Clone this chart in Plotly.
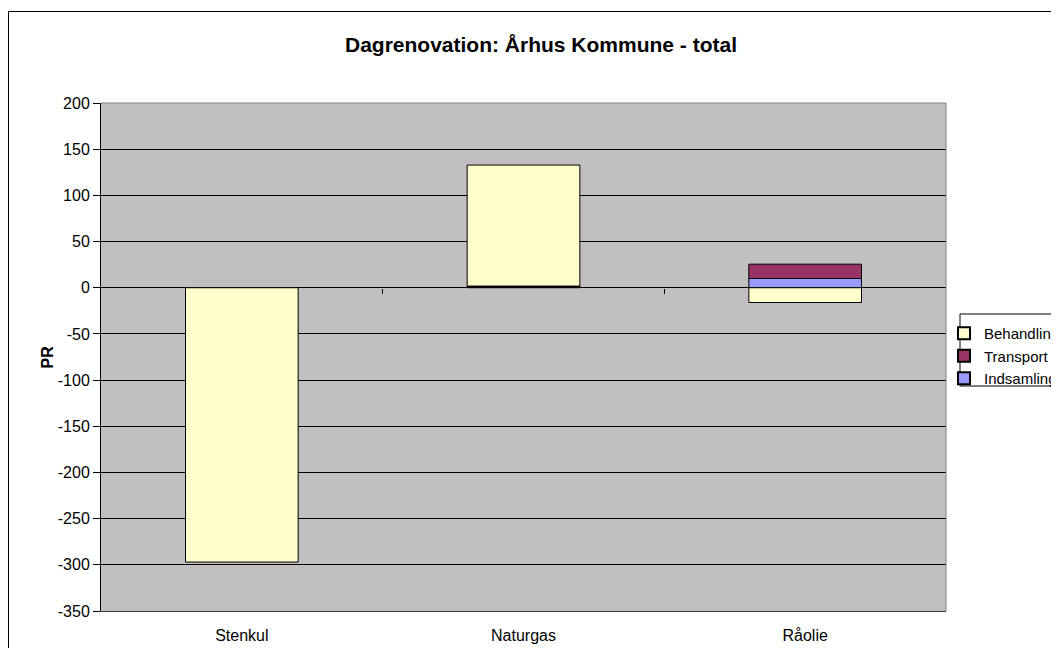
import plotly.graph_objects as go

categories = ["Stenkul", "Naturgas", "Råolie"]
indsamling = [0, 0.8, 10]
transport = [0, 1.0, 15.5]
behandling = [-297, 131, -16]

series_names = ["Indsamling", "Transport", "Behandling"]
series_colors = ["#9999FF", "#993366", "#FFFFCC"]
legend_order = ["Behandling", "Transport", "Indsamling"]

y_min, y_max, y_step = -350, 200, 50
y_ticks = list(range(y_min, y_max + 1, y_step))
y_ticktext = [str(v) for v in y_ticks]

FONT = "Arial, Liberation Sans, sans-serif"
W, H = 1051, 640
ML, MR, MT, MB = 93, 113, 95, 37
OFF = 8  # page body margin

xpos = list(range(len(categories)))
fig = go.Figure()
for name, vals, col in zip(series_names, [indsamling, transport, behandling], series_colors):
    fig.add_trace(go.Bar(x=xpos, y=vals, name=name, marker=dict(color=col, line=dict(color="black", width=1)),
                         width=0.4, showlegend=False))

# legend entries (small square keys like the original)
for name in legend_order:
    col = series_colors[series_names.index(name)]
    fig.add_trace(go.Scatter(x=[None], y=[None], mode="markers", name=name,
                             marker=dict(symbol="square", size=9, color=col, line=dict(color="black", width=1))))

# helper axis for category-boundary ticks on the zero line
fig.add_trace(go.Scatter(x=[None], y=[None], xaxis="x2", showlegend=False, hoverinfo="skip"))

zero_frac = (0 - y_min) / (y_max - y_min)
pw, ph = W - ML - MR, H - MT - MB

fig.update_layout(
    width=W, height=H,
    margin=dict(l=ML, r=MR, t=MT, b=MB, autoexpand=False),
    paper_bgcolor="white", plot_bgcolor="#C0C0C0",
    barmode="relative",
    font=dict(family=FONT, size=16, color="black"),
    title=dict(text="<b>Dagrenovation: Århus Kommune - total</b>", x=(541 - OFF - ML) / pw, xref="paper",
               y=1 - (45 - OFF) / H, yref="container", yanchor="middle", xanchor="center",
               font=dict(family=FONT, size=21, color="black")),
    xaxis=dict(range=[-0.5, len(categories) - 0.5], tickvals=xpos, ticktext=categories,
               showgrid=False, zeroline=False, ticks="", showline=True, linecolor="#404040",
               ticklabelstandoff=10, tickfont=dict(size=16)),
    xaxis2=dict(range=[-0.5, len(categories) - 0.5], overlaying="x", anchor="free", position=zero_frac,
                side="bottom", tickvals=[i + 0.5 for i in xpos[:-1]], ticks="outside", ticklen=5,
                tickcolor="black", showticklabels=False, showgrid=False, zeroline=False, showline=False),
    yaxis=dict(range=[y_min, y_max], tickvals=y_ticks, ticktext=y_ticktext, showgrid=True,
               gridcolor="black", gridwidth=1,
               zeroline=True, zerolinecolor="black", zerolinewidth=1,
               ticks="outside", ticklen=7, tickcolor="black", showline=True, linecolor="black",
               tickfont=dict(size=16)),
    legend=dict(x=(944 - OFF - ML) / pw, xanchor="left", xref="paper",
                y=(H - MB - (317 - OFF)) / ph, yanchor="top", yref="paper",
                bgcolor="rgba(0,0,0,0)", font=dict(size=15), traceorder="normal",
                tracegroupgap=0, itemsizing="constant"),
    showlegend=True,
)

fig.add_annotation(text="<b>PR</b>", x=(36 - OFF - ML) / pw, y=0.5, xref="paper", yref="paper",
                   textangle=-90, showarrow=False, font=dict(size=16, family=FONT))

# plot area top/right border (gray)
fig.add_shape(type="path", path="M 0 1 L 1 1 L 1 0", xref="paper", yref="paper",
              line=dict(color="#808080", width=1))
# outer chart border
fig.add_shape(type="rect", xref="paper", yref="paper",
              x0=(0.5) / pw - ML / pw, x1=1.6, y1=(H - MB - 3.5) / ph, y0=-0.6,
              line=dict(color="black", width=1))
# legend box
fig.add_shape(type="rect", xref="paper", yref="paper",
              x0=(960 - OFF - ML) / pw, x1=1.4, y1=(H - MB - (314 - OFF)) / ph, y0=(H - MB - (386 - OFF)) / ph,
              line=dict(color="black", width=1))

fig.write_html("out.html")
